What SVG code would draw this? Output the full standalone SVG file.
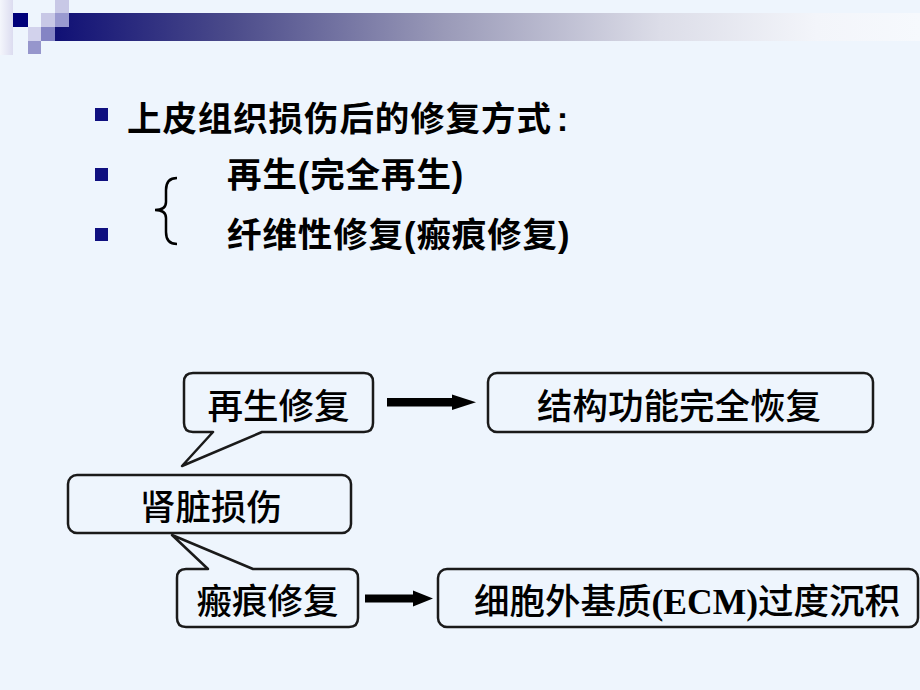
<svg xmlns="http://www.w3.org/2000/svg" width="920" height="690" viewBox="0 0 920 690">
  <defs>
    <linearGradient id="barGrad" x1="0" y1="0" x2="1" y2="0">
      <stop offset="0" stop-color="#101075"/>
      <stop offset="0.2" stop-color="#4a4a8a"/>
      <stop offset="0.45" stop-color="#9a9ab8"/>
      <stop offset="0.7" stop-color="#dcdde8"/>
      <stop offset="0.88" stop-color="#f3f5fa"/>
      <stop offset="1" stop-color="#f6f9fd"/>
    </linearGradient>
    <linearGradient id="leftGrad" x1="0" y1="0" x2="1" y2="0">
      <stop offset="0" stop-color="#f4f6fc"/>
      <stop offset="1" stop-color="#dcdcf0"/>
    </linearGradient>
    <style>
      .box { fill: #eef5fd; stroke: #1a1a1a; stroke-width: 2.5; stroke-linejoin: round; }
      .arrow { fill: #000; }
      .bullet { fill: #101080; }
      .head { font-family: "Noto Sans CJK SC", "Liberation Sans", sans-serif; font-weight: 700; font-size: 34.5px; fill: #000; letter-spacing: 0.9px; }
      .lat { font-family: "Liberation Sans", "Noto Sans CJK SC", sans-serif; font-weight: 700; }
      .lbl { font-family: "Noto Sans CJK SC", "Liberation Sans", sans-serif; font-weight: 500; font-size: 35.5px; fill: #000; }
      .ser { font-family: "Liberation Serif", "Noto Sans CJK SC", serif; font-weight: 700; }
    </style>
  </defs>

  <rect x="0" y="0" width="920" height="690" fill="#eef5fd"/>

  <g id="header">
    <rect x="0" y="0" width="13" height="55" fill="url(#leftGrad)"/>
    <rect x="55" y="13" width="865" height="28" fill="url(#barGrad)"/>
    <rect x="13" y="13" width="15" height="14" fill="#00007a"/>
    <rect x="28" y="27" width="13" height="14" fill="#d2d2ec"/>
    <rect x="28" y="41" width="13" height="13" fill="#9696cc"/>
    <rect x="41" y="13" width="14" height="14" fill="#c8c8e6"/>
    <rect x="41" y="27" width="14" height="14" fill="#8484c4"/>
    <rect x="55" y="0" width="14" height="13" fill="#c8c8e6"/>
    <rect x="55" y="13" width="14" height="14" fill="#9a9ad0"/>
  </g>

  <g id="bullets">
    <rect class="bullet" x="95" y="108" width="13" height="13"/>
    <rect class="bullet" x="95" y="168" width="13" height="13"/>
    <rect class="bullet" x="95" y="228" width="13" height="13"/>
  </g>

  <g id="title-text">
    <text class="head" x="127" y="131">上皮组织损伤后的修复方式<tspan class="lat" dx="5">:</tspan></text>
    <text class="head" x="227" y="187">再生<tspan class="lat">(</tspan>完全再生<tspan class="lat">)</tspan></text>
    <text class="head" x="227" y="247">纤维性修复<tspan class="lat">(</tspan>瘢痕修复<tspan class="lat">)</tspan></text>
    <path d="M177,178 Q166,178 166,190 V202 Q166,210 155,210 Q166,210 166,218 V232 Q166,244 177,244" fill="none" stroke="#000" stroke-width="2.5"/>
  </g>

  <g id="node-regen">
    <path class="box" d="M193,373 H364 Q373,373 373,382 V423 Q373,432 364,432 H262 L182,466 L213,432 H193 Q184,432 184,423 V382 Q184,373 193,373 Z"/>
    <text class="lbl" x="278.5" y="419" text-anchor="middle">再生修复</text>
  </g>

  <g id="node-kidney">
    <rect class="box" x="68" y="475" width="283" height="58" rx="9" ry="9"/>
    <text class="lbl" x="211" y="520" text-anchor="middle">肾脏损伤</text>
  </g>

  <g id="node-scar">
    <path class="box" d="M186,569 H208 L172,535 L253,569 H349 Q358,569 358,578 V618 Q358,627 349,627 H186 Q177,627 177,618 V578 Q177,569 186,569 Z"/>
    <text class="lbl" x="267.5" y="614" text-anchor="middle">瘢痕修复</text>
  </g>

  <g id="node-restore">
    <rect class="box" x="488" y="373" width="385" height="59" rx="9" ry="9"/>
    <text class="lbl" x="537" y="419">结构功能完全恢复</text>
  </g>

  <g id="node-ecm">
    <rect class="box" x="438" y="569" width="480" height="58" rx="9" ry="9"/>
    <text class="lbl" x="474" y="614">细胞外基质<tspan class="ser">(ECM)</tspan>过度沉积</text>
  </g>

  <g id="connectors">
    <rect class="arrow" x="387" y="398" width="66" height="8.5"/>
    <polygon class="arrow" points="452,394.5 476,402.2 452,410"/>
    <rect class="arrow" x="365" y="594.5" width="49" height="8"/>
    <polygon class="arrow" points="413,590.5 433,598.5 413,606.5"/>
  </g>
</svg>
